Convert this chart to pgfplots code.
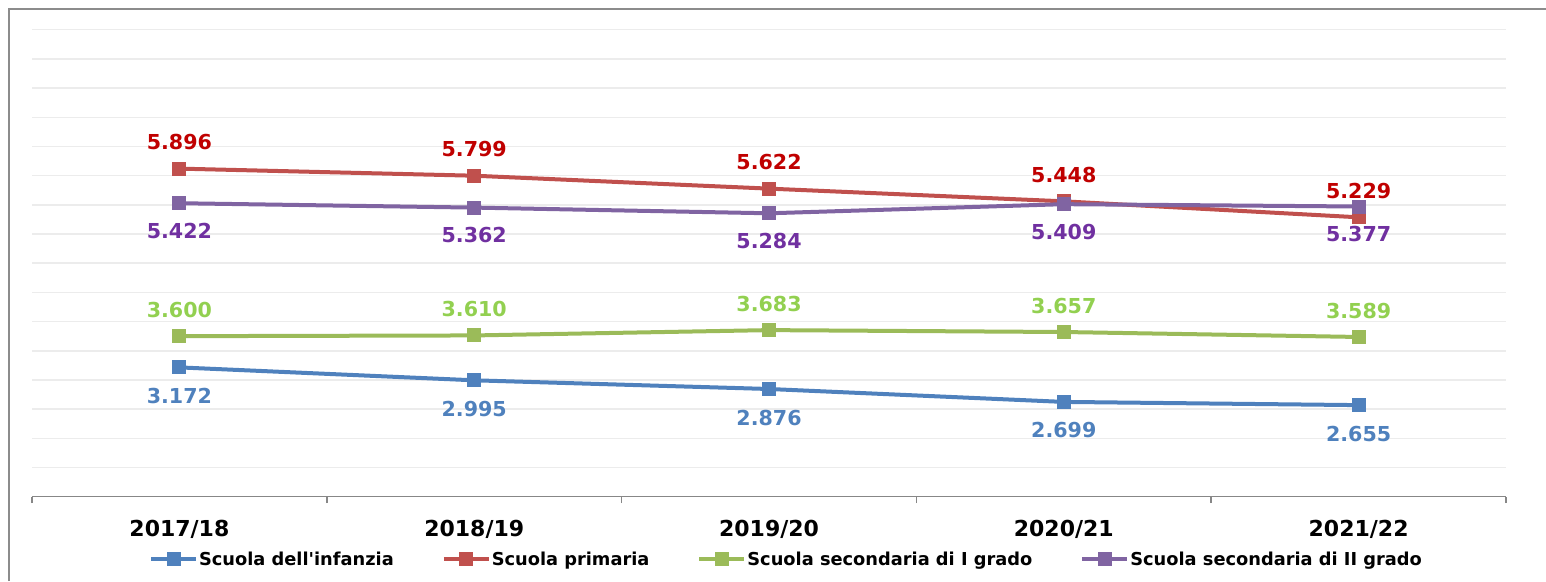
\documentclass[border=0pt]{standalone}
\usepackage{fontspec}
\setmainfont{DejaVu Sans}[Ligatures=TeXOff]
\usepackage{pgfplots}
\pgfplotsset{compat=1.18}
\definecolor{cBlue}{HTML}{4F81BD}
\definecolor{cRed}{HTML}{C0504D}
\definecolor{cGreen}{HTML}{9BBB59}
\definecolor{cPurple}{HTML}{8064A2}
\definecolor{tBlue}{HTML}{4F81BD}
\definecolor{tRed}{HTML}{C00000}
\definecolor{tGreen}{HTML}{92D050}
\definecolor{tPurple}{HTML}{7030A0}
\definecolor{cGrid}{HTML}{ECECEC}
\definecolor{cAxis}{HTML}{878787}
\definecolor{cFrame}{HTML}{8C8C8C}
\begin{document}
\begin{tikzpicture}[x=1pt,y=1pt]
\draw[cFrame, line width=2pt] (8.5,0) -- (8.5,571.5) -- (1546,571.5);
\begin{axis}[
  at={(32pt,84.3pt)}, anchor=south west,
  scale only axis, width=1474pt, height=467pt,
  xmin=-0.5, xmax=4.5, ymin=1.4, ymax=7.8,
  axis x line*=bottom, axis y line*=left,
  y axis line style={draw=none},
  x axis line style={cAxis, line width=1.5pt},
  ytick={1.4,1.8,2.2,2.6,3.0,3.4,3.8,4.2,4.6,5.0,5.4,5.8,6.2,6.6,7.0,7.4,7.8},
  yticklabels={},
  ymajorgrids,
  major grid style={cGrid, line width=1.5pt},
  major tick length=0pt,
  xtick={0,1,2,3,4},
  xticklabels={2017/18,2018/19,2019/20,2020/21,2021/22},
  minor xtick={-0.5,0.5,1.5,2.5,3.5,4.5},
  minor tick length=6.5pt,
  tick align=outside,
  minor tick style={cAxis, line width=1.5pt},
  xticklabel style={font=\fontsize{22}{26}\selectfont\bfseries, anchor=base, yshift=-40pt},
  clip=false,
  legend columns=4,
  legend style={draw=none, fill=none, at={(0.0794,-0.1334)}, anchor=west,
    inner sep=0pt, outer sep=0pt,
    font=\fontsize{17.8}{21}\selectfont\bfseries,
    nodes={inner sep=0pt},
    /tikz/every odd column/.append style={column sep=1pt},
    /tikz/every even column/.append style={column sep=48pt}},
  legend image code/.code={
    \draw[mark repeat=2, mark phase=2, #1] plot coordinates {(0pt,0pt) (22.5pt,0pt) (45pt,0pt)};
  },
  every axis plot/.append style={line width=4pt, mark=square*, mark size=5pt, mark options={solid}},
  nodes near coords,
  point meta=explicit symbolic,
]
\addplot[cBlue, every node near coord/.style={anchor=base, yshift=-36pt, text=tBlue, font=\fontsize{20.6}{24}\selectfont\bfseries}]
  coordinates {(0,3.172) [3.172] (1,2.995) [2.995] (2,2.876) [2.876] (3,2.699) [2.699] (4,2.655) [2.655]};
\addlegendentry{Scuola dell'infanzia}
\addplot[cRed, every node near coord/.style={anchor=base, yshift=19pt, text=tRed, font=\fontsize{20.6}{24}\selectfont\bfseries}]
  coordinates {(0,5.896) [5.896] (1,5.799) [5.799] (2,5.622) [5.622] (3,5.448) [5.448] (4,5.229) [5.229]};
\addlegendentry{Scuola primaria}
\addplot[cGreen, every node near coord/.style={anchor=base, yshift=18.7pt, text=tGreen, font=\fontsize{20.6}{24}\selectfont\bfseries}]
  coordinates {(0,3.600) [3.600] (1,3.610) [3.610] (2,3.683) [3.683] (3,3.657) [3.657] (4,3.589) [3.589]};
\addlegendentry{Scuola secondaria di I grado}
\addplot[cPurple, every node near coord/.style={anchor=base, yshift=-35pt, text=tPurple, font=\fontsize{20.6}{24}\selectfont\bfseries}]
  coordinates {(0,5.422) [5.422] (1,5.362) [5.362] (2,5.284) [5.284] (3,5.409) [5.409] (4,5.377) [5.377]};
\addlegendentry{Scuola secondaria di II grado}
\end{axis}
\pgfresetboundingbox
\useasboundingbox (0,0) rectangle (1546,581);
\end{tikzpicture}
\end{document}
